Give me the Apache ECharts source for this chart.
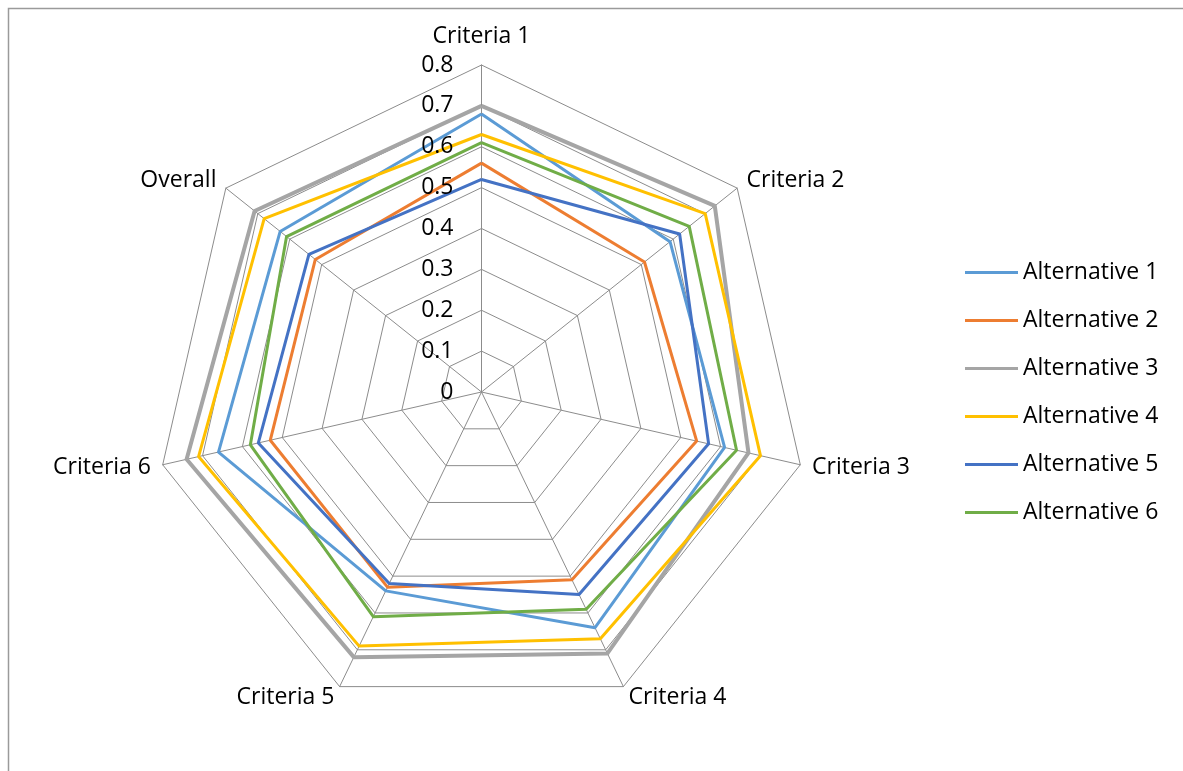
<!DOCTYPE html>
<html>
<head>
<meta charset="utf-8">
<style>
  html, body { margin: 0; padding: 0; background: #fff; }
  #chart { width: 1183px; height: 771px; }
</style>
<script src="https://cdn.jsdelivr.net/npm/echarts@6/dist/echarts.min.js"></script>
</head>
<body>
<div id="chart"></div>
<script>
// Criteria in clockwise order starting from the top
const criteria = ['Criteria 1', 'Criteria 2', 'Criteria 3', 'Criteria 4', 'Criteria 5', 'Criteria 6', 'Overall'];
const alternatives = ['Alternative 1', 'Alternative 2', 'Alternative 3', 'Alternative 4', 'Alternative 5', 'Alternative 6'];

// Scores per alternative, one value per criterion (same order as `criteria`)
const alt1 = [0.68, 0.59, 0.61, 0.64, 0.54, 0.66, 0.63];
const alt2 = [0.56, 0.51, 0.54, 0.51, 0.53, 0.53, 0.52];
const alt3 = [0.70, 0.73, 0.67, 0.71, 0.72, 0.74, 0.71];
const alt4 = [0.63, 0.70, 0.70, 0.67, 0.69, 0.71, 0.68];
const alt5 = [0.52, 0.62, 0.57, 0.55, 0.52, 0.56, 0.54];
const alt6 = [0.61, 0.65, 0.64, 0.59, 0.61, 0.58, 0.61];

const tickLabels = ['0', '0.1', '0.2', '0.3', '0.4', '0.5', '0.6', '0.7', '0.8'];
const axisMax = 0.8;

const colors = ['#5B9BD5', '#ED7D31', '#A5A5A5', '#FFC000', '#4472C4', '#70AD47'];
const widths = [3, 3, 4, 3, 3, 3];
const values = [alt1, alt2, alt3, alt4, alt5, alt6];

// ECharts lays radar indicators out counter-clockwise; reorder so they run clockwise
const order = [0].concat(criteria.map((_, i) => i).slice(1).reverse());
const clockwise = arr => order.map(i => arr[i]);

const cx = 481.5, cy = 392, R = 327;
const font = '"Open Sans", "Noto Sans", sans-serif';
const fontSize = 23;

const chart = echarts.init(document.getElementById('chart'), null, { renderer: 'canvas' });

// Value labels along the top spoke
const tickGraphics = tickLabels.map(t => ({
  type: 'text',
  x: cx - 28,
  y: cy - (parseFloat(t) / axisMax) * R,
  style: {
    text: t,
    font: fontSize + 'px ' + font,
    fill: '#000',
    align: 'right',
    verticalAlign: 'middle'
  },
  z: 10
}));

chart.setOption({
  animation: false,
  backgroundColor: '#fff',
  color: colors,
  textStyle: { fontFamily: font },
  graphic: [
    {
      type: 'rect',
      shape: { x: 8.5, y: 8.5, width: 1200, height: 800 },
      style: { fill: 'none', stroke: '#9a9a9a', lineWidth: 1.5 },
      silent: true
    }
  ].concat(tickGraphics),
  legend: {
    orient: 'vertical',
    left: 965,
    top: 261,
    padding: 0,
    itemWidth: 53,
    itemHeight: 3,
    itemGap: 25,
    icon: 'rect',
    textStyle: { fontSize: fontSize, color: '#000', fontFamily: font, lineHeight: 23 },
    data: alternatives
  },
  radar: {
    center: [cx, cy],
    radius: R,
    startAngle: 90,
    splitNumber: 8,
    shape: 'polygon',
    indicator: clockwise(criteria).map(n => ({ name: n, max: axisMax, min: 0 })),
    axisName: {
      color: '#000',
      fontSize: fontSize,
      fontFamily: font,
      formatter: name => (name === criteria[0] ? '{top|' + name + '}' : name),
      rich: {
        top: { fontSize: fontSize, fontFamily: font, color: '#000', padding: [0, 0, 5, 0] }
      }
    },
    nameGap: 12,
    axisLine: { lineStyle: { color: '#8c8c8c', width: 1 } },
    splitLine: { lineStyle: { color: '#8c8c8c', width: 1 } },
    splitArea: { show: false },
    axisTick: { show: false },
    axisLabel: { show: false }
  },
  series: alternatives.map((name, i) => ({
    type: 'radar',
    name: name,
    symbol: 'none',
    lineStyle: { color: colors[i], width: widths[i] },
    itemStyle: { color: colors[i] },
    data: [{ name: name, value: clockwise(values[i]) }]
  }))
});
</script>
</body>
</html>
